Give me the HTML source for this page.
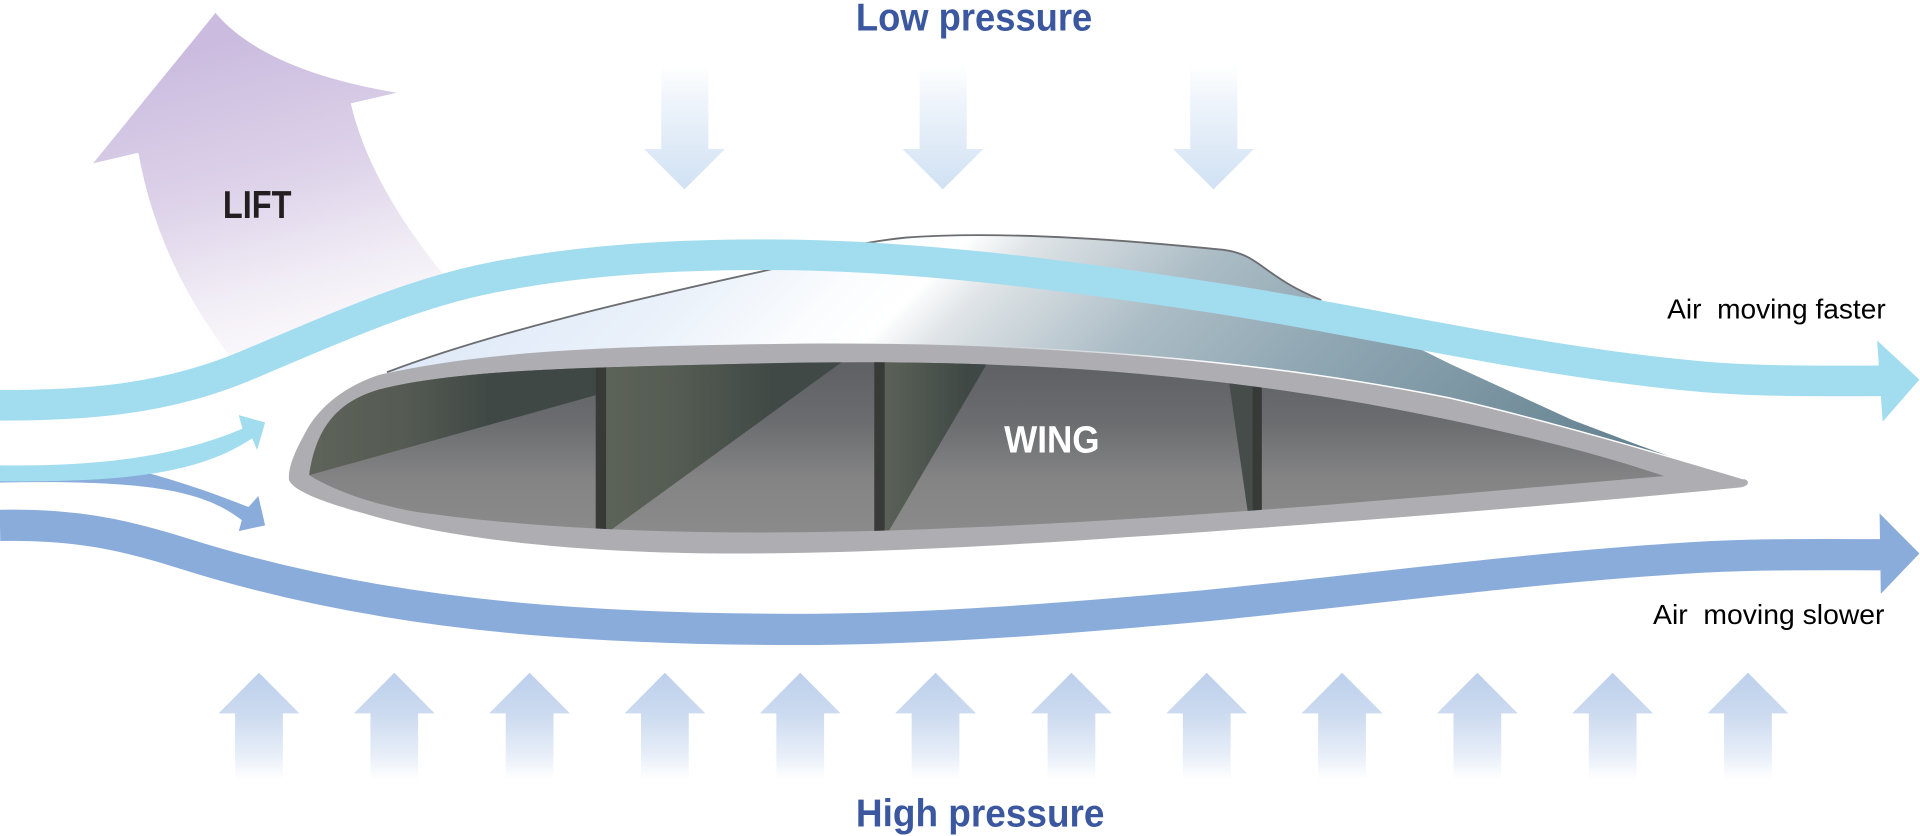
<!DOCTYPE html>
<html>
<head>
<meta charset="utf-8">
<title>Wing lift diagram</title>
<style>
html,body{margin:0;padding:0;background:#fff;width:1920px;height:836px;overflow:hidden}
svg{display:block}
text{font-family:"Liberation Sans",sans-serif;white-space:pre}
</style>
</head>
<body>
<svg xmlns="http://www.w3.org/2000/svg" width="1920" height="836" viewBox="0 0 1568 682.67">
<defs>
<linearGradient id="lift" gradientUnits="userSpaceOnUse" x1="200" y1="30" x2="265" y2="280">
<stop offset="0" stop-color="#cbbcdf"/><stop offset=".45" stop-color="#ddd2e9"/><stop offset=".8" stop-color="#f2eef6"/><stop offset="1" stop-color="#fbf9fc"/>
</linearGradient>
<linearGradient id="down" gradientUnits="userSpaceOnUse" x1="0" y1="53" x2="0" y2="155">
<stop offset="0" stop-color="#ffffff"/><stop offset=".3" stop-color="#eef4fb"/><stop offset="1" stop-color="#d0e1f3"/>
</linearGradient>
<linearGradient id="up" gradientUnits="userSpaceOnUse" x1="0" y1="549" x2="0" y2="637">
<stop offset="0" stop-color="#bccfeb"/><stop offset=".4" stop-color="#cddbf0"/><stop offset=".75" stop-color="#e6edf8"/><stop offset="1" stop-color="#ffffff"/>
</linearGradient>
<linearGradient id="skin" gradientUnits="userSpaceOnUse" x1="300" y1="300" x2="850" y2="850">
<stop offset="0" stop-color="#dde8f7"/><stop offset=".18" stop-color="#eaf1fa"/><stop offset=".29" stop-color="#fafcfe"/><stop offset=".35" stop-color="#ffffff"/><stop offset=".4" stop-color="#dfe4e7"/><stop offset=".545" stop-color="#abbcc5"/><stop offset=".68" stop-color="#92a9b5"/><stop offset="1" stop-color="#658290"/>
</linearGradient>
<linearGradient id="hl" gradientUnits="userSpaceOnUse" x1="780" y1="0" x2="1000" y2="0">
<stop offset="0" stop-color="#ffffff" stop-opacity="0"/><stop offset="1" stop-color="#ffffff"/>
</linearGradient>
<linearGradient id="floor" gradientUnits="userSpaceOnUse" x1="0" y1="296" x2="0" y2="432">
<stop offset="0" stop-color="#5e6064"/><stop offset=".35" stop-color="#6b6c6f"/><stop offset=".7" stop-color="#848485"/><stop offset="1" stop-color="#8a8a8a"/>
</linearGradient>
<linearGradient id="fa" gradientUnits="userSpaceOnUse" x1="260" y1="0" x2="400" y2="0">
<stop offset="0" stop-color="#5d6359"/><stop offset=".5" stop-color="#555b53"/><stop offset="1" stop-color="#404845"/>
</linearGradient>
<linearGradient id="fb" gradientUnits="userSpaceOnUse" x1="500" y1="0" x2="630" y2="0">
<stop offset="0" stop-color="#5b6258"/><stop offset=".4" stop-color="#555c53"/><stop offset="1" stop-color="#414946"/>
</linearGradient>
<linearGradient id="fc" gradientUnits="userSpaceOnUse" x1="722" y1="0" x2="790" y2="0">
<stop offset="0" stop-color="#5b6258"/><stop offset="1" stop-color="#404845"/>
</linearGradient>
<clipPath id="inner"><path d="M252.5,388 C258,350 275,328 310,318 C380,300 500,300 625,296.7 C800,293 980,300 1184,343 C1250,357 1310,372 1359,388.8 C1200,402 1000,422 784,431 C650,437 480,438 340,418 C300,411 270,399 252.5,388 Z"/></clipPath>
</defs>

<!-- Lift arrow -->
<path fill="url(#lift)" d="M176,10.5 C205,45 260,65 324,75.7 L286.5,84.4 C298,135 330,185 362.5,224.6 L195,300 L187.5,291 C150,240 125,190 113,124.7 L76,133.4 Z"/>

<!-- Wing upper skin -->
<path fill="url(#skin)" d="M316,304 C400,272 520,244 625,221 C660,213 680,200 740,194 C820,188 930,197 999,204 C1030,208 1030,225 1079,245 L1184,297 L1284,343 L1334,362 L1414,390.7 L1427,393 L784,285 Z"/>
<path fill="none" stroke="#6b6d70" stroke-width="1.5" d="M316,304 C400,272 520,244 625,221 C660,213 680,200 740,194 C820,188 930,197 999,204 C1030,208 1030,225 1079,245"/>

<!-- Wing shell -->
<path fill="#aeaeb2" d="M310,306 C400,286 500,283 625,281 C800,278 1000,288 1184,325 C1270,345 1360,372 1424,391 C1429,392.5 1429,396.5 1421.5,398 C1300,410 1100,427 900,440 C780,448 680,452 600,452 C480,452 370,441 300,420 C270,412 240,402 236,392 C235,380 243,365 250,352 C262,330 285,314 310,306 Z"/>
<path fill="none" stroke="url(#hl)" stroke-width="1.2" d="M625,281 C800,278 1000,288 1184,325 C1270,345 1360,372 1424,391"/>

<!-- Wing interior -->
<path fill="url(#floor)" d="M252.5,388 C258,350 275,328 310,318 C380,300 500,300 625,296.7 C800,293 980,300 1184,343 C1250,357 1310,372 1359,388.8 C1200,402 1000,422 784,431 C650,437 480,438 340,418 C300,411 270,399 252.5,388 Z"/>
<g clip-path="url(#inner)">
<polygon fill="url(#fa)" points="252.5,388 250,280 487,280 487,322.6"/>
<polygon fill="url(#fb)" points="495,280 709,280 498,433.4 495,440"/>
<polygon fill="url(#fc)" points="722,280 816,280 726,433.4 722,440"/>
<polygon fill="#454c49" points="1002,300 1024,300 1024,425 1020,425"/>
<rect x="486.5" y="290" width="8.5" height="150" fill="#383a38"/>
<rect x="714" y="290" width="8.5" height="150" fill="#383a38"/>
<rect x="1023" y="300" width="7.5" height="125" fill="#383a38"/>
</g>

<!-- Small flow arrows -->
<path fill="#8aacdb" d="M0,392 L120,386 C150,394 180,405 203,414 L211,405 L216.5,429 L195,433.7 L197.5,424.7 C165,400 120,392 0,394 Z"/>
<path fill="#a2dcef" d="M0,380 C70,381 140,375 198,350 L195,339 L216.5,345 L210,367.5 L206,358 C165,385 110,394 0,393 Z"/>

<!-- Top stream -->
<path fill="none" stroke="#a2dcef" stroke-width="25" d="M0,331 C66.7,331 133.3,327 200,299 C266.7,271 333.3,240.3 400,227 C475,212 550,208 625,208 C745,208 864,224 984,242 C1117,262 1251,295 1384,307 C1436,312 1490,311 1540,311"/>
<polygon fill="#a2dcef" points="1533,278 1567.5,310 1537.5,344.4"/>

<!-- Bottom stream -->
<path fill="none" stroke="#8aacdb" stroke-width="25.5" d="M0,429 C60,428 100,436 150,452 C241.7,481 333.3,496.7 425,505 C500,511.7 575,514 650,514 C761,514 873,504.7 984,494.7 C1117,481.4 1251,463.3 1384,455.3 C1436,452.2 1490,453 1540,453"/>
<polygon fill="#8aacdb" points="1535,419.2 1567.5,452 1536,485"/>

<!-- Low pressure arrows -->
<polygon fill="url(#down)" points="540,53 578.5,53 578.5,121.7 592,121.7 559,154.6 526,121.7 540,121.7"/>
<polygon fill="url(#down)" points="751,53 789.5,53 789.5,121.7 803,121.7 770,154.6 737,121.7 751,121.7"/>
<polygon fill="url(#down)" points="972,53 1010.5,53 1010.5,121.7 1024,121.7 991,154.6 958,121.7 972,121.7"/>

<!-- High pressure arrows -->
<polygon fill="url(#up)" points="211.5,549.4 244.5,582.6 231,582.6 231,637 192,637 192,582.6 178.5,582.6"/>
<polygon fill="url(#up)" points="322,549.4 355,582.6 341.5,582.6 341.5,637 302.5,637 302.5,582.6 289,582.6"/>
<polygon fill="url(#up)" points="432.5,549.4 465.5,582.6 452,582.6 452,637 413,637 413,582.6 399.5,582.6"/>
<polygon fill="url(#up)" points="543,549.4 576,582.6 562.5,582.6 562.5,637 523.5,637 523.5,582.6 510,582.6"/>
<polygon fill="url(#up)" points="653.5,549.4 686.5,582.6 673,582.6 673,637 634,637 634,582.6 620.5,582.6"/>
<polygon fill="url(#up)" points="764,549.4 797,582.6 783.5,582.6 783.5,637 744.5,637 744.5,582.6 731,582.6"/>
<polygon fill="url(#up)" points="875,549.4 908,582.6 894.5,582.6 894.5,637 855.5,637 855.5,582.6 842,582.6"/>
<polygon fill="url(#up)" points="985.5,549.4 1018.5,582.6 1005,582.6 1005,637 966,637 966,582.6 952.5,582.6"/>
<polygon fill="url(#up)" points="1096,549.4 1129,582.6 1115.5,582.6 1115.5,637 1076.5,637 1076.5,582.6 1063,582.6"/>
<polygon fill="url(#up)" points="1206.5,549.4 1239.5,582.6 1226,582.6 1226,637 1187,637 1187,582.6 1173.5,582.6"/>
<polygon fill="url(#up)" points="1317,549.4 1350,582.6 1336.5,582.6 1336.5,637 1297.5,637 1297.5,582.6 1284,582.6"/>
<polygon fill="url(#up)" points="1427.5,549.4 1460.5,582.6 1447,582.6 1447,637 1408,637 1408,582.6 1394.5,582.6"/>

<!-- Labels -->
<text x="699" y="25" font-size="32" font-weight="bold" fill="#3a57a0" textLength="193" lengthAdjust="spacingAndGlyphs">Low pressure</text>
<text x="699" y="675" font-size="32" font-weight="bold" fill="#3a57a0" textLength="203" lengthAdjust="spacingAndGlyphs">High pressure</text>
<text x="182" y="178" font-size="32" font-weight="bold" fill="#231f20" textLength="56" lengthAdjust="spacingAndGlyphs">LIFT</text>
<text x="820" y="369.7" font-size="31" font-weight="bold" fill="#ffffff" textLength="78" lengthAdjust="spacingAndGlyphs">WING</text>
<text x="1361.5" y="260" font-size="22.5" fill="#000000" textLength="178.5" lengthAdjust="spacingAndGlyphs" xml:space="preserve">Air  moving faster</text>
<text x="1350" y="509.6" font-size="22.5" fill="#000000" textLength="189" lengthAdjust="spacingAndGlyphs" xml:space="preserve">Air  moving slower</text>
</svg>
</body>
</html>
